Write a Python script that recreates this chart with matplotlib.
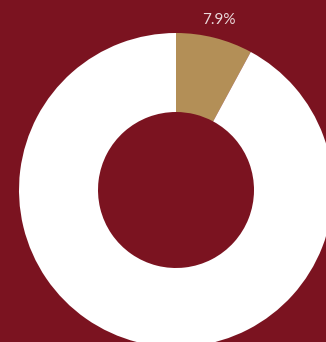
import matplotlib

matplotlib.use("Agg")
import matplotlib.pyplot as plt
import numpy as np

BG = "#7B1320"
SHARES = [7.9, 92.1]
LABELS = ["7.9%", ""]
COLORS = ["#B38F57", "#FFFFFF"]

W, H = 326, 342
CX, CY, R, R_IN = 176, 190, 157, 78

fig = plt.figure(figsize=(W / 100, H / 100), dpi=100, facecolor=BG)
ax = fig.add_axes([0, 0, 1, 1])
ax.set_facecolor(BG)

ax.pie(
    SHARES, colors=COLORS, startangle=90, counterclock=False, radius=1,
    wedgeprops={"width": 1 - R_IN / R, "linewidth": 0},
)

# label just outside the gold slice, at its middle angle
ang = np.deg2rad(90 - SHARES[0] / sum(SHARES) * 360 / 2)
ax.text(1.12 * np.cos(ang), 1.12 * np.sin(ang), LABELS[0], ha="center", va="center",
        color="#EAD9DB", fontsize=11, family=["Lato", "DejaVu Sans"])

ax.set_xlim(-CX / R, (W - CX) / R)
ax.set_ylim((CY - H) / R, CY / R)
ax.set_aspect("equal")
ax.axis("off")

fig.savefig("out.png", dpi=100, facecolor=BG)
